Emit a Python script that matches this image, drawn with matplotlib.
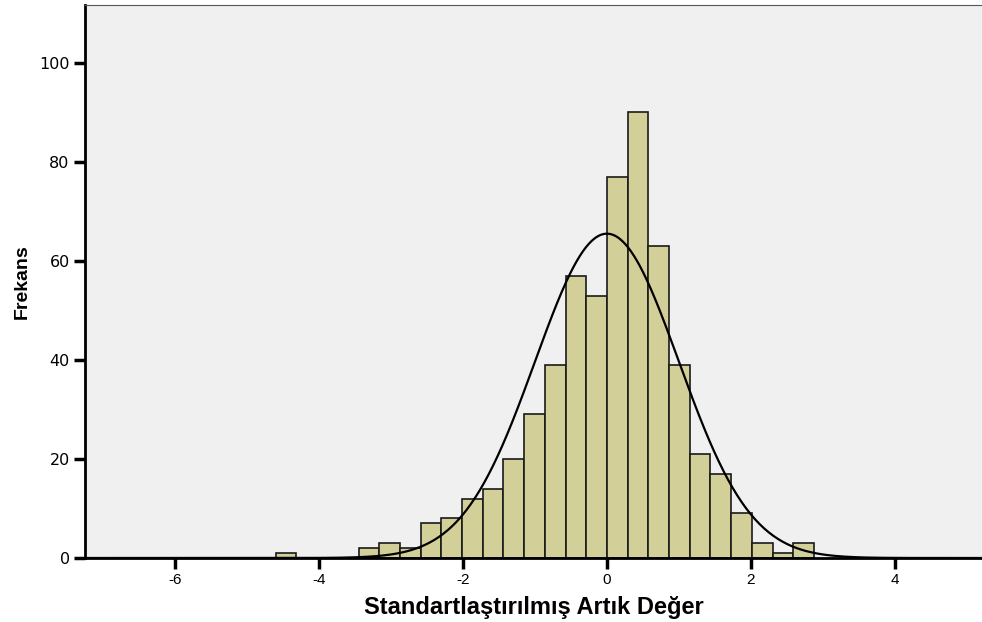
import numpy as np
import matplotlib
matplotlib.use("Agg")
import matplotlib.pyplot as plt
from matplotlib import font_manager

# histogram of standardized residuals (SPSS style)
bin_width = 0.2875
bin_index = [-16, -12, -11, -10, -9, -8, -7, -6, -5, -4, -3, -2, -1,
             0, 1, 2, 3, 4, 5, 6, 7, 8, 9]
counts = [1, 2, 3, 2, 7, 8, 12, 14, 20, 29, 39, 57, 53,
          77, 90, 63, 39, 21, 17, 9, 3, 1, 3]

# normal curve parameters
mean = 0.0
std_dev = 0.998
n_total = sum(counts)

x_ticks = [-6, -4, -2, 0, 2, 4]
y_ticks = [0, 20, 40, 60, 80, 100]

bar_color = '#d3cf99'
bg_color = '#f0f0f0'

names = set(f.name for f in font_manager.fontManager.ttflist)
label_font = 'Liberation Sans Narrow' if 'Liberation Sans Narrow' in names else 'Liberation Sans'

fig = plt.figure(figsize=(9.82, 6.22), dpi=100)
ax = fig.add_axes([85/982, 64/622, 897/982, 553/622])
ax.set_facecolor(bg_color)

lefts = np.array(bin_index) * bin_width
ax.bar(lefts, counts, width=bin_width, align='edge', color=bar_color,
       edgecolor='#1a1a1a', linewidth=1.2, zorder=2)

xs = np.linspace(-7.3, 5.3, 600)
ys = n_total * bin_width / (std_dev * np.sqrt(2 * np.pi)) * np.exp(-0.5 * ((xs - mean) / std_dev) ** 2)
ax.plot(xs, ys, color='black', linewidth=1.6, zorder=3)

ax.set_xlim(-7.25, 5.21)
ax.set_ylim(0, 111.7)
ax.set_xticks(x_ticks)
ax.set_yticks(y_ticks)
ax.set_xticklabels([str(t) for t in x_ticks], fontsize=11, family='Liberation Sans')
ax.set_yticklabels([str(t) for t in y_ticks], fontsize=11.5, family='DejaVu Sans')
ax.tick_params(axis='both', direction='out', width=2.5, length=8, color='black', pad=3)

for side in ['left', 'bottom']:
    ax.spines[side].set_linewidth(2)
    ax.spines[side].set_color('black')
ax.spines['right'].set_visible(False)
ax.spines['top'].set_linewidth(0.8)
ax.spines['top'].set_color('#555555')

ax.set_xlabel('Standartlaştırılmış Artık Değer', fontsize=17, fontweight='bold',
              family=label_font, labelpad=6)
ax.set_ylabel('Frekans', fontsize=14, fontweight='bold', family=label_font, labelpad=6)

fig.savefig('out.png', dpi=100, facecolor='white')
